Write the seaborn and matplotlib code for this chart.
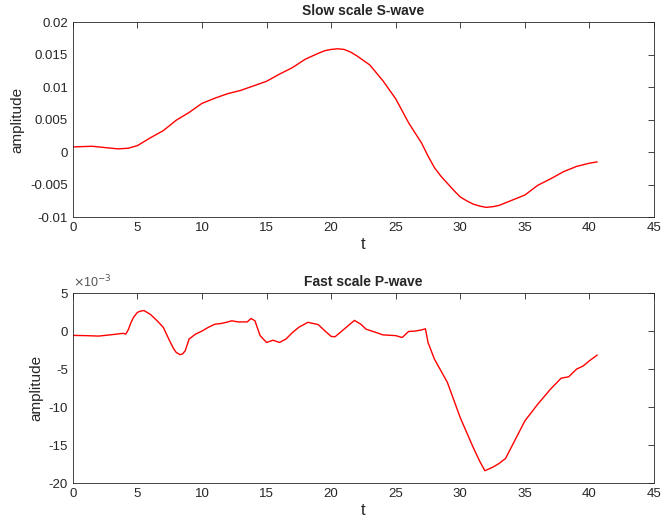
import numpy as np
import pandas as pd
import matplotlib
matplotlib.use("Agg")
import matplotlib.pyplot as plt
import seaborn as sns

sns.set_style("white")
plt.rcParams['font.family'] = ['Liberation Sans', 'DejaVu Sans']
plt.rcParams['axes.unicode_minus'] = False

# Slow scale S-wave
t_slow = [0, 1.5, 2.5, 3.5, 4.3, 5, 6, 7, 8, 9, 10, 11, 12, 13, 14, 15, 16, 17, 18, 19,
          19.5, 20, 20.5, 21, 21.5, 22, 23, 24, 25, 26, 27, 27.5, 28, 28.5, 29, 29.5, 30,
          30.5, 31, 31.5, 32, 32.5, 33, 34, 35, 36, 37, 38, 39, 40, 40.6]
amp_slow = [0.0008, 0.0009, 0.0007, 0.0005, 0.0006, 0.001, 0.0022, 0.0033, 0.0049, 0.0061,
            0.0075, 0.0083, 0.009, 0.0095, 0.0102, 0.0109, 0.012, 0.013, 0.0143, 0.0152,
            0.0156, 0.0158, 0.0159, 0.0158, 0.0154, 0.0148, 0.0134, 0.011, 0.0082, 0.0045,
            0.0014, -0.0006, -0.0024, -0.0037, -0.0048, -0.0059, -0.0069, -0.0075, -0.008,
            -0.0083, -0.0085, -0.0084, -0.0082, -0.0074, -0.0066, -0.0051, -0.0041, -0.003,
            -0.0022, -0.0017, -0.0015]
slow_yticks = [-0.01, -0.005, 0, 0.005, 0.01, 0.015, 0.02]
slow_ylabels = ["-0.01", "-0.005", "0", "0.005", "0.01", "0.015", "0.02"]

# Fast scale P-wave (units of 1e-3)
t_fast = [0, 1, 2, 3, 3.9, 4.1, 4.3, 4.5, 4.7, 5, 5.2, 5.5, 6, 6.5, 7, 7.5, 7.8, 8, 8.3,
          8.5, 8.7, 9, 9.5, 10, 10.5, 11, 11.5, 12, 12.3, 12.8, 13.5, 13.8, 14.1, 14.5, 15,
          15.5, 16, 16.5, 17, 17.5, 18.2, 19, 19.5, 20, 20.3, 21, 21.8, 22.3, 22.7, 23.5,
          24, 25, 25.5, 26, 26.5, 27, 27.3, 27.5, 28, 29, 30, 31, 31.5, 31.9, 32.5, 33,
          33.5, 34, 35, 36, 37, 37.8, 38.4, 39, 39.5, 40, 40.6]
amp_fast_e3 = [-0.57, -0.6, -0.66, -0.48, -0.3, -0.4, 0.2, 1.1, 1.8, 2.45, 2.6, 2.7, 2.2,
               1.4, 0.5, -1.3, -2.3, -2.8, -3.1, -3.0, -2.6, -1.05, -0.4, 0.0, 0.5, 0.9,
               1.0, 1.2, 1.35, 1.2, 1.2, 1.65, 1.35, -0.6, -1.5, -1.2, -1.5, -1.05, -0.2,
               0.5, 1.15, 0.85, 0.05, -0.7, -0.75, 0.25, 1.4, 0.9, 0.25, -0.2, -0.5, -0.6,
               -0.85, -0.05, 0.0, 0.15, 0.3, -1.5, -3.7, -6.75, -11.4, -15.3, -17.1, -18.35,
               -17.9, -17.4, -16.75, -15.1, -11.8, -9.6, -7.6, -6.2, -6.0, -5.0, -4.6, -3.9,
               -3.15]
amp_fast = [v * 1e-3 for v in amp_fast_e3]
fast_yticks = [-0.02, -0.015, -0.01, -0.005, 0, 0.005]
fast_ylabels = ["-20", "-15", "-10", "-5", "0", "5"]

x_ticks = [0, 5, 10, 15, 20, 25, 30, 35, 40, 45]

df_slow = pd.DataFrame({"t": t_slow, "amplitude": amp_slow})
df_fast = pd.DataFrame({"t": t_fast, "amplitude": amp_fast})

fig = plt.figure(figsize=(6.62, 5.27), dpi=100)
ax1 = fig.add_axes([0.110, 0.588, 0.878, 0.370])
ax2 = fig.add_axes([0.110, 0.083, 0.878, 0.361])

for ax, df, title in [(ax1, df_slow, "Slow scale S-wave"), (ax2, df_fast, "Fast scale P-wave")]:
    sns.lineplot(data=df, x="t", y="amplitude", ax=ax, color="red", linewidth=1.0)
    ax.set_xlim(0, 45)
    ax.set_xticks(x_ticks)
    ax.set_title(title, fontsize=10, fontweight="bold", pad=5)
    ax.set_xlabel("t", fontsize=12, labelpad=2)
    ax.set_ylabel("amplitude", fontsize=11, labelpad=4)
    ax.tick_params(direction="in", top=True, right=True, labelsize=9.5, length=4,
                   width=0.6, colors="#262626")
    for s in ax.spines.values():
        s.set_linewidth(0.6)
        s.set_color("#262626")

ax1.set_ylim(-0.01, 0.02)
ax1.set_yticks(slow_yticks)
ax1.set_yticklabels(slow_ylabels)

ax2.set_ylim(-0.02, 0.005)
ax2.set_yticks(fast_yticks)
ax2.set_yticklabels(fast_ylabels)
ax2.text(0.0, 1.012, r"$\times$10$^{-3}$", transform=ax2.transAxes, fontsize=9,
         color="#555555", ha="left", va="bottom")

fig.savefig("out.png", dpi=100)
